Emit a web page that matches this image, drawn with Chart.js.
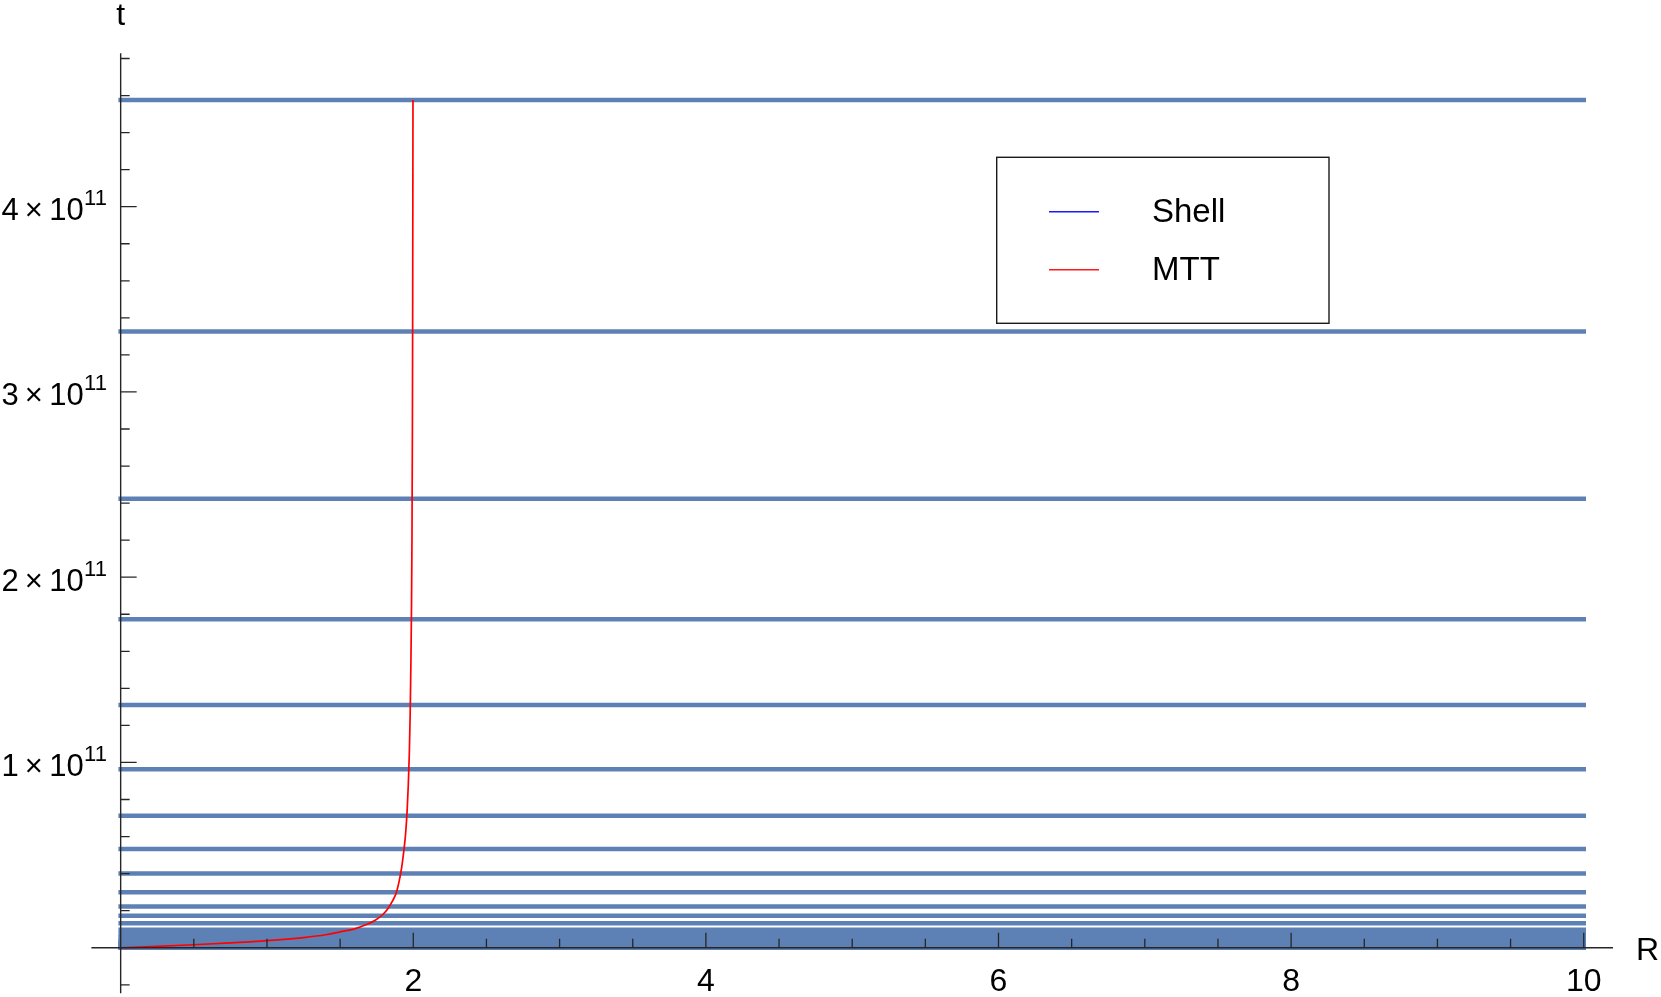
<!DOCTYPE html>
<html><head><meta charset="utf-8">
<script src="https://cdn.jsdelivr.net/npm/chart.js@4.4.1/dist/chart.umd.min.js"></script>
<style>html,body{margin:0;padding:0;background:#fff;overflow:hidden}</style>
</head><body>
<canvas id="c" width="1661" height="997"></canvas>
<script>
// ---- data ----
const shellT = [4.576e11, 3.326e11, 2.424e11, 1.773e11, 1.310e11, 0.963e11, 0.7125e11, 0.533e11,
  0.400e11, 0.299e11, 0.223e11, 0.173e11, 0.132e11, 0.097e11, 0.073e11, 0.055e11, 0.041e11,
  0.031e11, 0.023e11, 0.017e11, 0.012e11, 0.008e11, 0.005e11, 0.003e11, 0.001e11, 0];
const shellR = [0, 10];
const mttR = [0, 0.25, 0.5, 0.75, 1.0, 1.25, 1.4, 1.5, 1.6, 1.68, 1.74, 1.79, 1.83, 1.86, 1.885,
  1.905, 1.92, 1.935, 1.948, 1.958, 1.966, 1.973, 1.979, 1.984, 1.988, 1.991, 1.994, 1.996, 1.998];
const mttT = [0, 0.007e11, 0.016e11, 0.026e11, 0.038e11, 0.055e11, 0.070e11, 0.086e11, 0.102e11,
  0.125e11, 0.148e11, 0.178e11, 0.215e11, 0.255e11, 0.300e11, 0.365e11, 0.430e11, 0.520e11,
  0.620e11, 0.740e11, 0.880e11, 1.05e11, 1.27e11, 1.55e11, 1.85e11, 2.2e11, 2.8e11, 3.5e11, 4.576e11];
const seriesNames = ['Shell', 'MTT'];
const xMajorTicks = [2, 4, 6, 8, 10];
const xTickLabels = ['2', '4', '6', '8', '10'];
const yMajorTicks = [1e11, 2e11, 3e11, 4e11];
const yTickMantissa = ['1', '2', '3', '4'];
const yTickExponent = '11';
const xAxisTitle = 'R';
const yAxisTitle = 't';

// ---- styles ----
const FONT = '"Liberation Sans", Arial, sans-serif';
const AXIS_COLOR = '#262626';
const SHELL_COLOR = '#5E81B5';

const datasets = [];
datasets.push({
  label: seriesNames[1],
  data: mttR.map((r, i) => ({x: r, y: mttT[i]})),
  borderColor: '#ff0000', borderWidth: 1.7, pointRadius: 0, showLine: true,
  cubicInterpolationMode: 'monotone', fill: false
});
shellT.forEach(t => {
  datasets.push({
    label: seriesNames[0],
    data: shellR.map(r => ({x: r, y: t})),
    borderColor: SHELL_COLOR, borderWidth: 4.5, borderCapStyle: 'square',
    pointRadius: 0, showLine: true, fill: false
  });
});

const axesPlugin = {
  id: 'mmaAxes',
  afterDatasetsDraw(chart) {
    const {ctx, scales: {x, y}, chartArea: ca} = chart;
    const x0 = x.getPixelForValue(0), y0 = y.getPixelForValue(0);
    ctx.save();
    ctx.strokeStyle = AXIS_COLOR; ctx.lineWidth = 1.4; ctx.lineCap = 'butt';
    ctx.beginPath();
    ctx.moveTo(ca.left, y0); ctx.lineTo(ca.right, y0);
    ctx.moveTo(x0, ca.top); ctx.lineTo(x0, ca.bottom);
    ctx.stroke();
    ctx.lineWidth = 1.3;
    ctx.beginPath();
    for (let k = 1; k <= 20; k++) {
      const v = k * 0.5;
      const px = x.getPixelForValue(v);
      const major = xMajorTicks.includes(v);
      ctx.moveTo(px, y0); ctx.lineTo(px, y0 - (major ? 15 : 9));
    }
    for (let k = -1; k <= 24; k++) {
      if (k === 0) continue;
      const v = k * 0.2e11;
      const py = y.getPixelForValue(v);
      const major = (k % 5 === 0);
      ctx.moveTo(x0, py); ctx.lineTo(x0 + (major ? 16 : 9), py);
    }
    ctx.stroke();

    ctx.fillStyle = '#000';
    ctx.font = '32px ' + FONT;
    ctx.textAlign = 'center'; ctx.textBaseline = 'alphabetic';
    xMajorTicks.forEach((v, i) => {
      ctx.fillText(xTickLabels[i], x.getPixelForValue(v), y0 + 43);
    });
    yMajorTicks.forEach((v, i) => {
      const py = y.getPixelForValue(v);
      const supRight = x0 - 13.7;
      ctx.font = '22px ' + FONT;
      ctx.textAlign = 'right';
      const supW = ctx.measureText(yTickExponent).width;
      ctx.fillText(yTickExponent, supRight, py - 1.7);
      ctx.font = '31px ' + FONT;
      ctx.fillText(yTickMantissa[i] + '\u2009\u00D7\u200910', supRight - supW - 0.5, py + 13.3);
    });
    ctx.font = '32px ' + FONT;
    ctx.textAlign = 'center';
    ctx.fillText(yAxisTitle, x0, 25);
    ctx.textAlign = 'left';
    ctx.fillText(xAxisTitle, 1636, y0 + 12.5);
    ctx.restore();
  },
  afterDraw(chart) {
    const {ctx} = chart;
    ctx.save();
    ctx.strokeStyle = '#1a1a1a'; ctx.lineWidth = 1.4;
    ctx.strokeRect(996.7, 157.3, 332.3, 166);
    const items = [
      {name: seriesNames[0], color: '#1a1aff', y: 211.7},
      {name: seriesNames[1], color: '#ff1a1a', y: 269.7}
    ];
    ctx.font = '33px ' + FONT;
    ctx.textAlign = 'left'; ctx.textBaseline = 'middle';
    items.forEach(it => {
      ctx.strokeStyle = it.color; ctx.lineWidth = 1.5;
      ctx.beginPath(); ctx.moveTo(1049, it.y); ctx.lineTo(1099, it.y); ctx.stroke();
      ctx.fillStyle = '#000';
      ctx.fillText(it.name, 1152, it.y + 1);
    });
    ctx.restore();
  }
};

new Chart(document.getElementById('c'), {
  type: 'scatter',
  data: {datasets},
  options: {
    responsive: false, animation: false, devicePixelRatio: 1,
    layout: {padding: {left: 91.4, right: 48, top: 53.3, bottom: 3.7}},
    plugins: {legend: {display: false}, tooltip: {enabled: false}},
    scales: {
      x: {type: 'linear', min: -0.2, max: 10.2, display: false},
      y: {type: 'linear', min: -0.246e11, max: 4.828e11, display: false}
    }
  },
  plugins: [axesPlugin]
});
</script>
</body></html>
